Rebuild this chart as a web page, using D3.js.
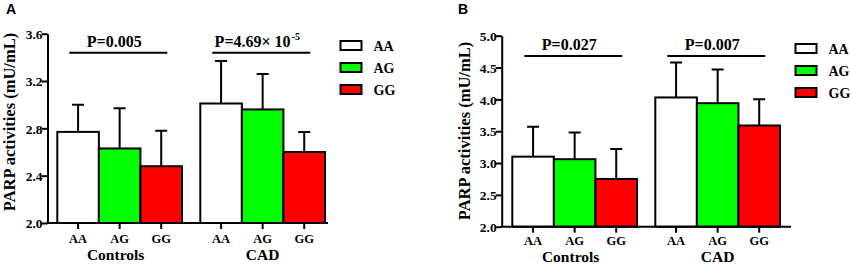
<!DOCTYPE html>
<html>
<head>
<meta charset="UTF-8">
<style>
body { margin: 0; background: #fff; }
svg text { font-family: "Liberation Serif", "Times New Roman", serif; font-weight: bold; fill: #000; }
.panel-label { font-family: "Liberation Sans", Arial, sans-serif; font-size: 14px; }
</style>
</head>
<body>
<svg width="851" height="265"></svg>
<script src="https://cdn.jsdelivr.net/npm/d3@7/dist/d3.min.js"></script>
<script>
// data
var groups = ["Controls", "CAD"];
var genotypes = ["AA", "AG", "GG"];

var meanA = [[2.77, 2.63, 2.48], [3.01, 2.96, 2.60]];
var sdA   = [[0.23, 0.34, 0.30], [0.36, 0.30, 0.17]];
var ticksA = [2.0, 2.4, 2.8, 3.2, 3.6];
var pTextA = ["P=0.005", "P=4.69\u00d7  10"];
var pSupA  = ["", "-5"];
var pLineA = 3.44;

var meanB = [[3.10, 3.06, 2.75], [4.03, 3.94, 3.59]];
var sdB   = [[0.47, 0.42, 0.47], [0.55, 0.53, 0.41]];
var ticksB = [2.0, 2.5, 3.0, 3.5, 4.0, 4.5, 5.0];
var pTextB = ["P=0.027", "P=0.007"];
var pSupB  = ["", ""];
var pLineB = 4.68;

var colors = {AA: "#ffffff", AG: "#00ff00", GG: "#ff0000"};

var svg = d3.select("svg");

function drawPanel(o) {
  var g = svg.append("g");

  var y = d3.scaleLinear().domain(o.yDomain).range([o.bottom, o.top]);
  var x0 = d3.scaleBand().domain(groups).range([o.barStart, o.barEnd]).paddingInner(0.128);
  var x1 = d3.scaleBand().domain(genotypes).range([0, x0.bandwidth()]);

  // panel letter
  g.append("text").attr("class", "panel-label")
    .attr("x", o.labelX).attr("y", 14).text(o.label);

  // y axis
  var yAxis = g.append("g")
    .attr("transform", "translate(" + o.axisX + ",0)")
    .call(d3.axisLeft(y).tickValues(o.ticks).tickFormat(d3.format(".1f")).tickSize(6).tickSizeOuter(0));
  yAxis.select(".domain").attr("stroke", "#000").attr("stroke-width", 2);
  yAxis.selectAll(".tick line").attr("stroke", "#000").attr("stroke-width", 2);
  yAxis.selectAll(".tick text").attr("x", -5).attr("dy", "0.35em")
    .style("font-family", "Liberation Serif").style("font-weight", "bold").style("font-size", "13.5px");

  // y title
  g.append("text")
    .attr("transform", "translate(" + o.titleX + "," + o.titleY + ") rotate(-90)")
    .attr("text-anchor", "middle")
    .style("font-size", "16.5px")
    .text("PARP activities (mU/mL)");

  // bars
  var grp = g.selectAll(".grp").data(groups).enter().append("g")
    .attr("transform", function(d) { return "translate(" + x0(d) + ",0)"; });

  grp.each(function(gname, gi) {
    var sel = d3.select(this);
    var rows = genotypes.map(function(k, i) { return {k: k, m: o.mean[gi][i], sd: o.sd[gi][i]}; });

    // error bars (upper only)
    sel.selectAll(".err").data(rows).enter().append("path")
      .attr("d", function(d) {
        var cx = x1(d.k) + x1.bandwidth() / 2;
        return "M" + cx + "," + y(d.m) + "V" + y(d.m + d.sd) + "M" + (cx - 6) + "," + y(d.m + d.sd) + "H" + (cx + 6);
      })
      .attr("stroke", "#000").attr("stroke-width", 2).attr("fill", "none");

    sel.selectAll(".bar").data(rows).enter().append("rect")
      .attr("x", function(d) { return x1(d.k); })
      .attr("y", function(d) { return y(d.m); })
      .attr("width", x1.bandwidth())
      .attr("height", function(d) { return y(o.yDomain[0]) - y(d.m); })
      .attr("fill", function(d) { return colors[d.k]; })
      .attr("stroke", "#000").attr("stroke-width", 2);

    // x ticks + labels
    rows.forEach(function(d) {
      var cx = x1(d.k) + x1.bandwidth() / 2;
      sel.append("line").attr("x1", cx).attr("x2", cx)
        .attr("y1", o.bottom).attr("y2", o.bottom + 6)
        .attr("stroke", "#000").attr("stroke-width", 2);
      sel.append("text").attr("x", cx).attr("y", o.tickLabelY)
        .attr("text-anchor", "middle").style("font-size", "12.5px").text(d.k);
    });

    sel.append("text").attr("x", x0.bandwidth() / 2 - (gi === 0 ? 4 : 0)).attr("y", o.groupLabelY)
      .attr("text-anchor", "middle").style("font-size", "15.5px").text(gname);

    // significance line + P value
    var lx1 = 12, lx2 = 110;
    sel.append("line").attr("x1", lx1).attr("x2", lx2)
      .attr("y1", y(o.pLine)).attr("y2", y(o.pLine))
      .attr("stroke", "#000").attr("stroke-width", 2);
    var t = sel.append("text").attr("x", (lx1 + lx2) / 2 - 4).attr("y", y(o.pLine) - 6)
      .attr("text-anchor", "middle").style("font-size", "16px");
    t.append("tspan").text(o.pText[gi]);
    if (o.pSup[gi]) {
      t.append("tspan").attr("dx", 1).attr("dy", -7).style("font-size", "10px").text(o.pSup[gi]);
    }
  });

  // x axis line
  g.append("line").attr("x1", o.axisX - 1).attr("x2", o.axisEnd)
    .attr("y1", o.bottom).attr("y2", o.bottom)
    .attr("stroke", "#000").attr("stroke-width", 2);

  // legend
  var lg = g.selectAll(".leg").data(genotypes).enter().append("g")
    .attr("transform", function(d, i) { return "translate(" + o.legX + "," + (o.legY + i * 22) + ")"; });
  lg.append("rect").attr("width", 21).attr("height", 9)
    .attr("fill", function(d) { return colors[d]; })
    .attr("stroke", "#000").attr("stroke-width", 2);
  lg.append("text").attr("x", 33).attr("y", 9.5).style("font-size", "14px").text(function(d) { return d; });
}

drawPanel({
  label: "A", labelX: 6,
  yDomain: [2.0, 3.6], ticks: ticksA, top: 33.7, bottom: 223,
  axisX: 47.5, axisEnd: 328, barStart: 57.3, barEnd: 325,
  mean: meanA, sd: sdA, pText: pTextA, pSup: pSupA, pLine: pLineA,
  titleX: 15, titleY: 122, legX: 340.5, legY: 41, tickLabelY: 242.5, groupLabelY: 259.5
});

drawPanel({
  label: "B", labelX: 458,
  yDomain: [2.0, 5.0], ticks: ticksB, top: 35.7, bottom: 226.7,
  axisX: 501.7, axisEnd: 791, barStart: 512.3, barEnd: 780,
  mean: meanB, sd: sdB, pText: pTextB, pSup: pSupB, pLine: pLineB,
  titleX: 470, titleY: 131, legX: 795.5, legY: 44, tickLabelY: 245, groupLabelY: 261.5
});
</script>
</body>
</html>
